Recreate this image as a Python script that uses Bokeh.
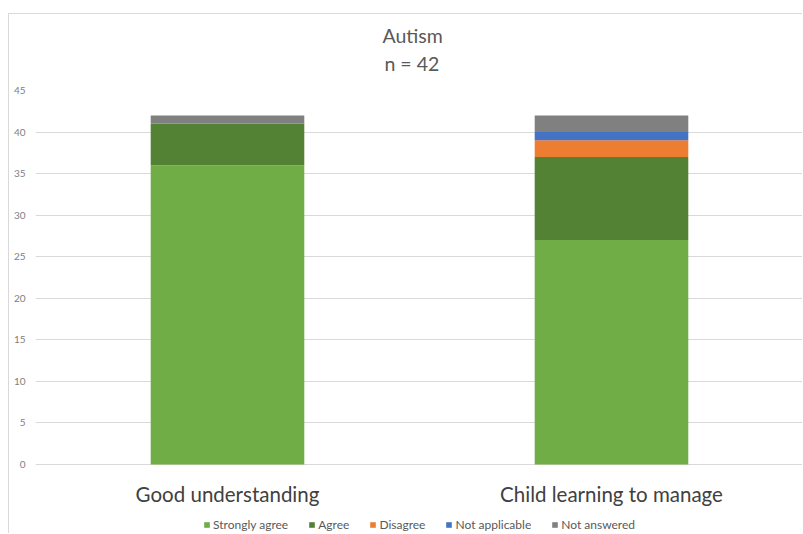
from bokeh.plotting import figure
from bokeh.models import Range1d, FixedTicker, Legend, LegendItem, Title
from bokeh.core.properties import value
from bokeh.embed import file_html
from bokeh.resources import INLINE

categories = ["Good understanding", "Child learning to manage"]
series = ["Strongly agree", "Agree", "Disagree", "Not applicable", "Not answered"]
strongly_agree = [36, 27]
agree = [5, 10]
disagree = [0, 2]
not_applicable = [0, 1]
not_answered = [1, 2]
y_ticks = [0, 5, 10, 15, 20, 25, 30, 35, 40, 45]
colors = ["#70AD47", "#548235", "#ED7D31", "#4472C4", "#808080"]

FONT = "Lato"

data = {"cat": categories, "Strongly agree": strongly_agree, "Agree": agree,
        "Disagree": disagree, "Not applicable": not_applicable, "Not answered": not_answered}

# frame reaches to the bottom of the figure; the area below 0 holds category labels + legend
p = figure(x_range=categories, y_range=Range1d(-8.42, 45), width=794, height=520,
           output_backend="svg", toolbar_location=None,
           min_border_left=26, min_border_right=0, min_border_top=76, min_border_bottom=0)
p.styles = {"margin-left": "8px", "margin-top": "13px",
            "border-left": "1px solid #d9d9d9", "border-top": "1px solid #d9d9d9"}
p.outline_line_color = None

renderers = p.vbar_stack(series, x="cat", width=0.4, color=colors, line_color=None, source=data)

# titles (innermost first); centred over the whole chart area rather than the frame
p.add_layout(Title(text=" ", text_font_size="1px", standoff=10), "above")
p.add_layout(Title(text="n = 42", align="left", offset=349, text_font=FONT, text_font_size="19.5px",
                   text_font_style="normal", text_color="#595959", standoff=6), "above")
p.add_layout(Title(text="Autism", align="left", offset=347, text_font=FONT, text_font_size="19.5px",
                   text_font_style="normal", text_color="#595959", standoff=0), "above")

p.xgrid.grid_line_color = None
p.ygrid.grid_line_color = "#d9d9d9"
p.ygrid.grid_line_width = 1

p.yaxis.ticker = FixedTicker(ticks=y_ticks)
p.yaxis.axis_line_color = None
p.yaxis.major_tick_line_color = None
p.yaxis.minor_tick_line_color = None
p.yaxis.major_tick_out = 0
p.yaxis.major_tick_in = 0
p.yaxis.major_label_standoff = 10
p.yaxis.major_label_text_font = FONT
p.yaxis.major_label_text_font_size = "10px"
p.yaxis.major_label_text_color = "#808080"

p.xaxis.visible = False

# category labels under the bars
label_y = [-3.5] * len(categories)
p.text(x=categories, y=label_y, text=categories, text_align="center", text_baseline="middle",
       text_font=value(FONT), text_font_size="20.5px", text_color="#404040")

items = [LegendItem(label=s, renderers=[r]) for s, r in zip(series, renderers)]
legend = Legend(items=items, orientation="horizontal", location="bottom_center",
                glyph_width=7, glyph_height=7, label_standoff=3, spacing=20,
                padding=2, margin=2, border_line_color=None, background_fill_alpha=0,
                label_text_font=FONT, label_text_font_size="12px", label_text_color="#595959")
p.add_layout(legend, "center")

open("out.html", "w").write(file_html(p, INLINE))
